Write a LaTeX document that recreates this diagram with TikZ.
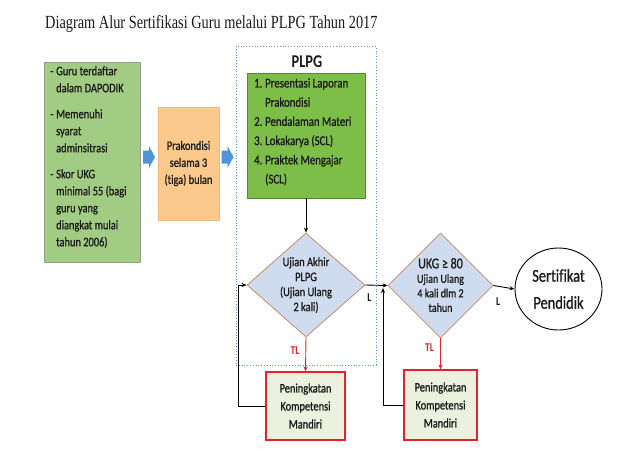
\documentclass[tikz,border=0pt]{standalone}
\usepackage{fontspec}
\setmainfont{Carlito}[FakeStretch=0.8, UprightFeatures={FakeBold=0.9}, Ligatures=NoCommon]
\newfontfamily\titlefont{Liberation Serif}[FakeStretch=0.775]
\usetikzlibrary{shapes.geometric,arrows.meta}
\definecolor{reqgreen}{HTML}{A2CB83}
\definecolor{reqedge}{HTML}{8FA486}
\definecolor{prakfill}{HTML}{FAC98B}
\definecolor{prakedge}{HTML}{F2B77E}
\definecolor{plpggreen}{HTML}{7DBE48}
\definecolor{plpgedge}{HTML}{4F8A2E}
\definecolor{dfill}{HTML}{CFDBEE}
\definecolor{dedge}{HTML}{C8896A}
\definecolor{pkfill}{HTML}{EBF1DE}
\definecolor{pkred}{HTML}{E3232B}
\definecolor{arrowblue}{HTML}{4F94D8}
\definecolor{framecol}{HTML}{5B8FC9}
\definecolor{txt}{HTML}{1A1A1A}
\begin{document}
\begin{tikzpicture}[x=1pt,y=-1pt,
  every node/.style={text=txt, inner sep=0pt},
  boxtxt/.style={font=\fontsize{13}{17}\selectfont},
  pkbox/.style={draw=pkred, line width=1.1pt, fill=pkfill, minimum width=79pt, minimum height=68pt, align=center, font=\fontsize{13}{18}\selectfont},
  dbox/.style={diamond, draw=dedge, line width=0.8pt, fill=dfill},
  flow/.style={-{Stealth[length=5pt,width=4pt]}, line width=0.9pt, black},
  redflow/.style={-{Stealth[length=5pt,width=4pt]}, line width=0.9pt, pkred},
  lab/.style={font=\bfseries\fontsize{12}{14}\selectfont},
  blockarrow/.pic={\fill[arrowblue] (-6,-6.5) -- (0,-6.5) -- (0,-11) -- (6,0) -- (0,11) -- (0,6.5) -- (-6,6.5) -- cycle;}
]
\useasboundingbox (0,0) rectangle (640,451);
\fill[white] (0,0) rectangle (640,451);

\node[anchor=base west, font=\titlefont\fontsize{18.5}{20}\selectfont] (title) at (45,28) {Diagram Alur Sertifikasi Guru melalui PLPG Tahun 2017};

% requirements
\node[draw=reqedge, line width=0.6pt, fill=reqgreen, minimum width=96pt, minimum height=200pt] (req) at (92,162) {};
\node[boxtxt, align=left, anchor=north west] (reqtxt) at (50,66) {%
\makebox[6pt][l]{-}Guru terdaftar\\\hspace*{6pt}dalam DAPODIK\\[9pt]
\makebox[6pt][l]{-}Memenuhi\\\hspace*{6pt}syarat\\\hspace*{6pt}adminsitrasi\\[9pt]
\makebox[6pt][l]{-}Skor UKG\\\hspace*{6pt}minimal 55 (bagi\\\hspace*{6pt}guru yang\\\hspace*{6pt}diangkat mulai\\\hspace*{6pt}tahun 2006)};

\pic at (149,157) {blockarrow};

% prakondisi
\node[draw=prakedge, line width=0.6pt, fill=prakfill, minimum width=61pt, minimum height=113pt, boxtxt, align=center] (prak) at (188.5,163.5) {Prakondisi\\selama 3\\(tiga) bulan};

\pic at (227.5,157) {blockarrow};

% PLPG frame
\node[draw=framecol, dotted, line width=0.8pt, minimum width=140pt, minimum height=319pt] (frame) at (306,205.5) {};
\node[font=\bfseries\fontsize{18}{20}\selectfont] (plpg) at (307,62) {PLPG};

\node[draw=plpgedge, line width=0.8pt, fill=plpggreen, minimum width=118pt, minimum height=125pt] (materi) at (306,135.5) {};
\node[anchor=north west, align=left, font=\fontsize{13.5}{19.2}\selectfont] (materitxt) at (254,78) {%
\makebox[11pt][l]{1.}Presentasi Laporan\\\hspace*{11pt}Prakondisi\\
\makebox[11pt][l]{2.}Pendalaman Materi\\
\makebox[11pt][l]{3.}Lokakarya (SCL)\\
\makebox[11pt][l]{4.}Praktek Mengajar\\\hspace*{11pt}(SCL)};

% decision 1
\node[dbox, minimum width=118pt, minimum height=104pt] (d1) at (306,285) {};
\node[align=center, font=\fontsize{13}{15}\selectfont] (d1txt) at (306,285) {Ujian Akhir\\PLPG\\(Ujian Ulang\\2 kali)};

\node[pkbox] (pk1) at (305.5,406) {Peningkatan\\Kompetensi\\Mandiri};

% decision 2
\node[dbox, minimum width=105pt, minimum height=105pt] (d2) at (440.5,285.5) {};
\node[align=center, font=\fontsize{12.5}{14.5}\selectfont] (d2txt) at (440.5,285) {{\fontsize{15}{15}\selectfont UKG ≥ 80}\\Ujian Ulang\\4 kali dlm 2\\tahun};

\node[pkbox, minimum width=73pt, minimum height=70pt] (pk2) at (440.5,405) {Peningkatan\\Kompetensi\\Mandiri};

% certificate
\node[ellipse, draw=black, line width=0.9pt, fill=white, minimum width=87pt, minimum height=82pt, align=center, font=\fontsize{18}{27}\selectfont] (cert) at (558.5,289) {Sertifikat\\Pendidik};

% connectors
\coordinate (fb1) at (238,406);
\coordinate (fb2) at (383,405);
\coordinate (fb2top) at (383,288);
\draw[flow] (materi.south) -- (d1.north);
\draw[redflow] (d1.south) -- node[lab, text=pkred, left=6pt, pos=0.4] {TL} (pk1.north);
\draw[flow] (pk1.west) -- (fb1) |- (d1.west);
\draw[flow] (d1.east) -- node[lab, below=8pt, pos=0.18] {L} (d2.west);
\draw[redflow] (d2.south) -- node[lab, text=pkred, left=6pt, pos=0.3] {TL} (pk2.north);
\draw[flow] (pk2.west) -- (fb2) -- (fb2top);
\draw[flow] (d2.east) -- node[lab, below=11pt, pos=0.22] {L} (cert.west);
\end{tikzpicture}
\end{document}
